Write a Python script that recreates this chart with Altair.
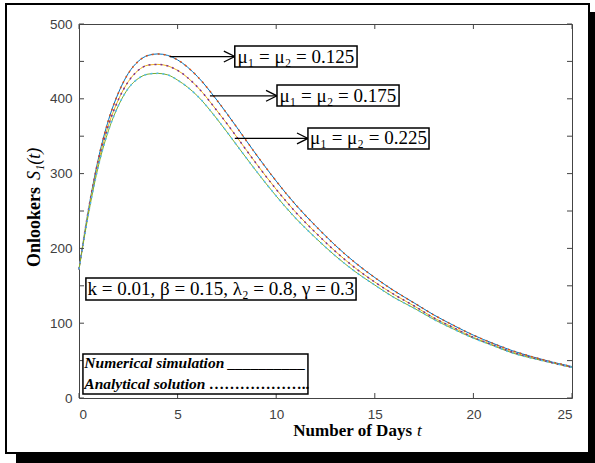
import altair as alt
import pandas as pd

# ---------------- data ----------------
t_days = [0, 0.5, 1, 1.5, 2, 2.5, 3, 3.5, 4, 4.5, 5, 6, 7, 8, 9, 10, 11, 12,
          13, 14, 15, 16, 17, 18, 19, 20, 21, 22, 23, 24, 25]
s_mu_0125 = [172, 255, 322, 372, 408, 434, 450, 458, 460, 458, 452, 430, 398, 362,
             325, 290, 258, 230, 204, 181, 161, 143, 127, 111, 97, 84, 73, 63, 55, 48, 42]
s_mu_0175 = [172, 252, 317, 365, 399, 423, 438, 445, 446, 444, 438, 416, 384, 349,
             313, 279, 248, 221, 196, 174, 155, 138, 123, 107, 94, 81, 71, 61, 54, 47, 41]
s_mu_0225 = [172, 249, 312, 358, 391, 414, 427, 433, 434, 432, 425, 404, 373, 338,
             303, 270, 240, 214, 190, 169, 151, 134, 120, 105, 92, 80, 70, 60, 53, 47, 41]

mu_values = ["0.125", "0.175", "0.225"]
series_values = [s_mu_0125, s_mu_0175, s_mu_0225]
methods = ["Numerical", "Analytical"]

x_ticks = [0, 5, 10, 15, 20, 25]
y_ticks = [0, 50, 100, 150, 200, 250, 300, 350, 400, 450, 500]

# ---------------- build tables ----------------
rows = []
for mu, vals in zip(mu_values, series_values):
    for m in methods:
        for tt, v in zip(t_days, vals):
            rows.append({"t": tt, "S": v, "key": f"{m} {mu}", "method": m})
df = pd.DataFrame(rows)

key_domain = ["Numerical 0.125", "Analytical 0.125",
              "Numerical 0.175", "Analytical 0.175",
              "Numerical 0.225", "Analytical 0.225"]
key_range = ["#0072BD", "#D95319", "#EDB120", "#7E2F8E", "#77AC30", "#4DBEEE"]

W, H = 493, 374

xscale = alt.Scale(domain=[0, 25], nice=False)
yscale = alt.Scale(domain=[0, 500], nice=False)

xaxis = alt.Axis(values=x_ticks, title=None, domain=False, ticks=False, grid=False,
                 labelPadding=9, labelFont="Liberation Sans", labelFontSize=13.5,
                 labelColor="#404040")
yaxis = alt.Axis(values=y_ticks, title=None, domain=False, ticks=False, grid=False,
                 labelPadding=7, labelFont="Liberation Sans", labelFontSize=13.5,
                 labelColor="#404040")

color = alt.Color("key:N", scale=alt.Scale(domain=key_domain, range=key_range), legend=None)

dummy = pd.DataFrame({"a": [0]})

frame = alt.Chart(dummy).mark_rect(fillOpacity=0, stroke="black", strokeWidth=2).encode(
    x=alt.value(-73), x2=alt.value(510), y=alt.value(-20), y2=alt.value(429))
shadow_r = alt.Chart(dummy).mark_rect(color="black").encode(
    x=alt.value(511), x2=alt.value(516), y=alt.value(-12), y2=alt.value(439))
shadow_b = alt.Chart(dummy).mark_rect(color="black").encode(
    x=alt.value(-63), x2=alt.value(516), y=alt.value(430), y2=alt.value(439))

num = alt.Chart(df[df.method == "Numerical"]).mark_line(
    strokeWidth=1.0, interpolate="monotone").encode(
    x=alt.X("t:Q", scale=xscale, axis=xaxis),
    y=alt.Y("S:Q", scale=yscale, axis=yaxis),
    color=color, detail="key:N")
ana = alt.Chart(df[df.method == "Analytical"]).mark_line(
    strokeWidth=1.5, strokeDash=[2, 4], interpolate="monotone").encode(
    x="t:Q", y="S:Q", color=color, detail="key:N")

xt = pd.DataFrame({"t": x_ticks})
yt = pd.DataFrame({"S": y_ticks})
tick_style = dict(color="#444444", strokeWidth=1)
xt_b = alt.Chart(xt).mark_rule(**tick_style).encode(x="t:Q", y=alt.value(H), y2=alt.value(H - 5))
xt_t = alt.Chart(xt).mark_rule(**tick_style).encode(x="t:Q", y=alt.value(0), y2=alt.value(5))
yt_l = alt.Chart(yt).mark_rule(**tick_style).encode(y="S:Q", x=alt.value(0), x2=alt.value(5))
yt_r = alt.Chart(yt).mark_rule(**tick_style).encode(y="S:Q", x=alt.value(W - 5), x2=alt.value(W))

# ---------------- annotations ----------------
ann_text = ["\u03bc\u2081 = \u03bc\u2082 = 0.125", "\u03bc\u2081 = \u03bc\u2082 = 0.175",
            "\u03bc\u2081 = \u03bc\u2082 = 0.225"]
ann = pd.DataFrame({
    "label": ann_text,
    "t0": [7.9, 10.04, 11.61], "t1": [14.1, 16.23, 17.75],
    "S0": [442.5, 390.4, 332.9], "S1": [470.6, 418.4, 361.0],
    "tc": [11.0, 13.13, 14.68], "Sc": [456.5, 404.0, 347.0],
    "ta": [4.6, 6.64, 7.9],
})
arrow_lines = alt.Chart(ann).mark_rule(color="black", strokeWidth=1.2).encode(
    x="ta:Q", x2="t0:Q", y="Sc:Q")
arrow_heads = alt.Chart(ann).mark_point(
    shape="M-2,-1L0,0L-2,1", size=120, filled=False, color="black", strokeWidth=1.3,
    opacity=1).encode(x="t0:Q", y="Sc:Q")
ann_box = alt.Chart(ann).mark_rect(fill="white", stroke="black", strokeWidth=1.5).encode(
    x="t0:Q", x2="t1:Q", y="S0:Q", y2="S1:Q")
ann_lab = alt.Chart(ann).mark_text(font="Liberation Serif", fontSize=19, color="black",
                                   baseline="middle").encode(
    x="tc:Q", y="Sc:Q", text="label:N")

par = pd.DataFrame({"label": ["k = 0.01, \u03b2 = 0.15, \u03bb\u2082 = 0.8, \u03b3 = 0.3"],
                    "t0": [0.35], "t1": [14.05], "S0": [131.0], "S1": [160.4],
                    "tc": [7.2], "Sc": [146.0]})
par_box = alt.Chart(par).mark_rect(fill="white", stroke="black", strokeWidth=1.5).encode(
    x="t0:Q", x2="t1:Q", y="S0:Q", y2="S1:Q")
par_lab = alt.Chart(par).mark_text(font="Liberation Serif", fontSize=19, color="black",
                                   baseline="middle").encode(
    x="tc:Q", y="Sc:Q", text="label:N")

leg = pd.DataFrame({"t0": [0.2], "t1": [11.61], "S0": [5.3], "S1": [58.8]})
leg_txt = pd.DataFrame({"label": ["Numerical simulation __________",
                                  "Analytical solution \u2026\u2026\u2026\u2026\u2026\u2026.."],
                        "tl": [0.27, 0.27], "Sl": [46.5, 18.5]})
leg_box = alt.Chart(leg).mark_rect(fill="white", stroke="black", strokeWidth=1.5).encode(
    x="t0:Q", x2="t1:Q", y="S0:Q", y2="S1:Q")
leg_lab = alt.Chart(leg_txt).mark_text(font="Liberation Serif", fontSize=15.5, fontStyle="italic",
                                       fontWeight="bold", color="black", align="left",
                                       baseline="middle").encode(
    x="tl:Q", y="Sl:Q", text="label:N")

# ---------------- axis titles ----------------
xt1 = alt.Chart(dummy).mark_text(text="Number of Days", font="Liberation Serif", fontSize=17,
                                 fontWeight="bold", align="right", baseline="alphabetic",
                                 color="black").encode(x=alt.value(333), y=alt.value(412))
xt2 = alt.Chart(dummy).mark_text(text="t", font="Liberation Serif", fontSize=17,
                                 fontStyle="italic", align="left", baseline="alphabetic",
                                 color="black").encode(x=alt.value(338), y=alt.value(412))
yt1 = alt.Chart(dummy).mark_text(text="Onlookers", font="Liberation Serif", fontSize=18,
                                 fontWeight="bold", angle=270, align="right",
                                 baseline="alphabetic", color="black").encode(
    x=alt.value(-39), y=alt.value(163))
yt2 = alt.Chart(dummy).mark_text(text="S\u2081(t)", font="Liberation Serif", fontSize=18,
                                 fontStyle="italic", angle=270, align="left",
                                 baseline="alphabetic", color="black").encode(
    x=alt.value(-39), y=alt.value(156))

chart = alt.layer(
    frame, shadow_r, shadow_b, num, ana, xt_b, xt_t, yt_l, yt_r,
    arrow_lines, arrow_heads, ann_box, ann_lab, par_box, par_lab, leg_box, leg_lab,
    xt1, xt2, yt1, yt2
).properties(
    width=W, height=H,
    padding={"left": 79, "top": 24, "right": 23, "bottom": 65},
    autosize=alt.AutoSizeParams(type="none"),
    background="white",
).configure_view(stroke="#444444", strokeWidth=1)

chart.save("out.html", embed_options={"renderer": "svg", "actions": False})
